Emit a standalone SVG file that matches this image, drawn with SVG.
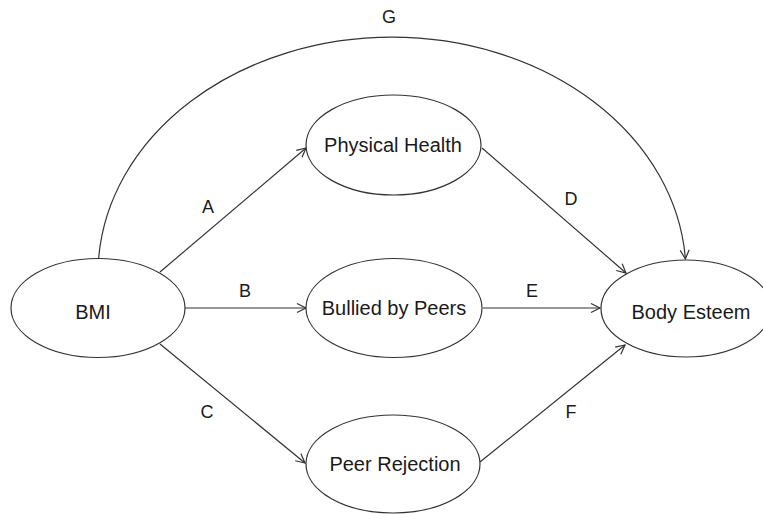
<svg xmlns="http://www.w3.org/2000/svg" width="763" height="514" viewBox="0 0 763 514">
<defs>
<marker id="arr" markerUnits="userSpaceOnUse" markerWidth="14" markerHeight="14" viewBox="-12 -7 14 14" refX="0" refY="0" orient="auto">
<path d="M-9,-4.5 L0,0 L-9,4.5" fill="none" stroke="#333" stroke-width="1.2"/>
</marker>
</defs>
<style>
.node ellipse{fill:#fff;stroke:#333;stroke-width:1.2}
.node text{font-family:"Liberation Sans",Arial,sans-serif;font-size:20px;fill:#1a1a1a;text-anchor:middle}
.lbl{font-family:"Liberation Sans",Arial,sans-serif;font-size:18px;fill:#1a1a1a;text-anchor:middle}
.conn path,.conn line{fill:none;stroke:#333;stroke-width:1.2;marker-end:url(#arr)}
</style>
<rect width="763" height="514" fill="#fff"/>
<g id="connectors" class="conn">
<path id="G" d="M98.6,259 A294,237 0 0 1 685.4,259"/>
<line id="A" x1="160" y1="272" x2="306" y2="148"/>
<line id="B" x1="185" y1="308" x2="306" y2="308"/>
<line id="C" x1="160" y1="344" x2="305" y2="463"/>
<line id="D" x1="482" y1="148" x2="626" y2="273"/>
<line id="E" x1="483" y1="308" x2="600" y2="308"/>
<line id="F" x1="480" y1="462" x2="625" y2="345"/>
</g>
<g id="labels">
<text class="lbl" x="389" y="23">G</text>
<text class="lbl" x="208" y="213">A</text>
<text class="lbl" x="245" y="297">B</text>
<text class="lbl" x="207" y="418">C</text>
<text class="lbl" x="571" y="205">D</text>
<text class="lbl" x="532" y="297">E</text>
<text class="lbl" x="571" y="418">F</text>
</g>
<g id="bmi" class="node">
<ellipse cx="98" cy="308" rx="87" ry="49.5"/>
<text x="93" y="319">BMI</text>
</g>
<g id="physical-health" class="node">
<ellipse cx="393.5" cy="145" rx="87.5" ry="50"/>
<text x="393" y="152">Physical Health</text>
</g>
<g id="bullied" class="node">
<ellipse cx="394" cy="308" rx="88" ry="49.5"/>
<text x="394" y="315">Bullied by Peers</text>
</g>
<g id="peer-rejection" class="node">
<ellipse cx="393" cy="464" rx="87" ry="49"/>
<text x="395" y="471">Peer Rejection</text>
</g>
<g id="body-esteem" class="node">
<ellipse cx="686" cy="308.5" rx="85" ry="48.5"/>
<text x="691" y="319">Body Esteem</text>
</g>
</svg>
